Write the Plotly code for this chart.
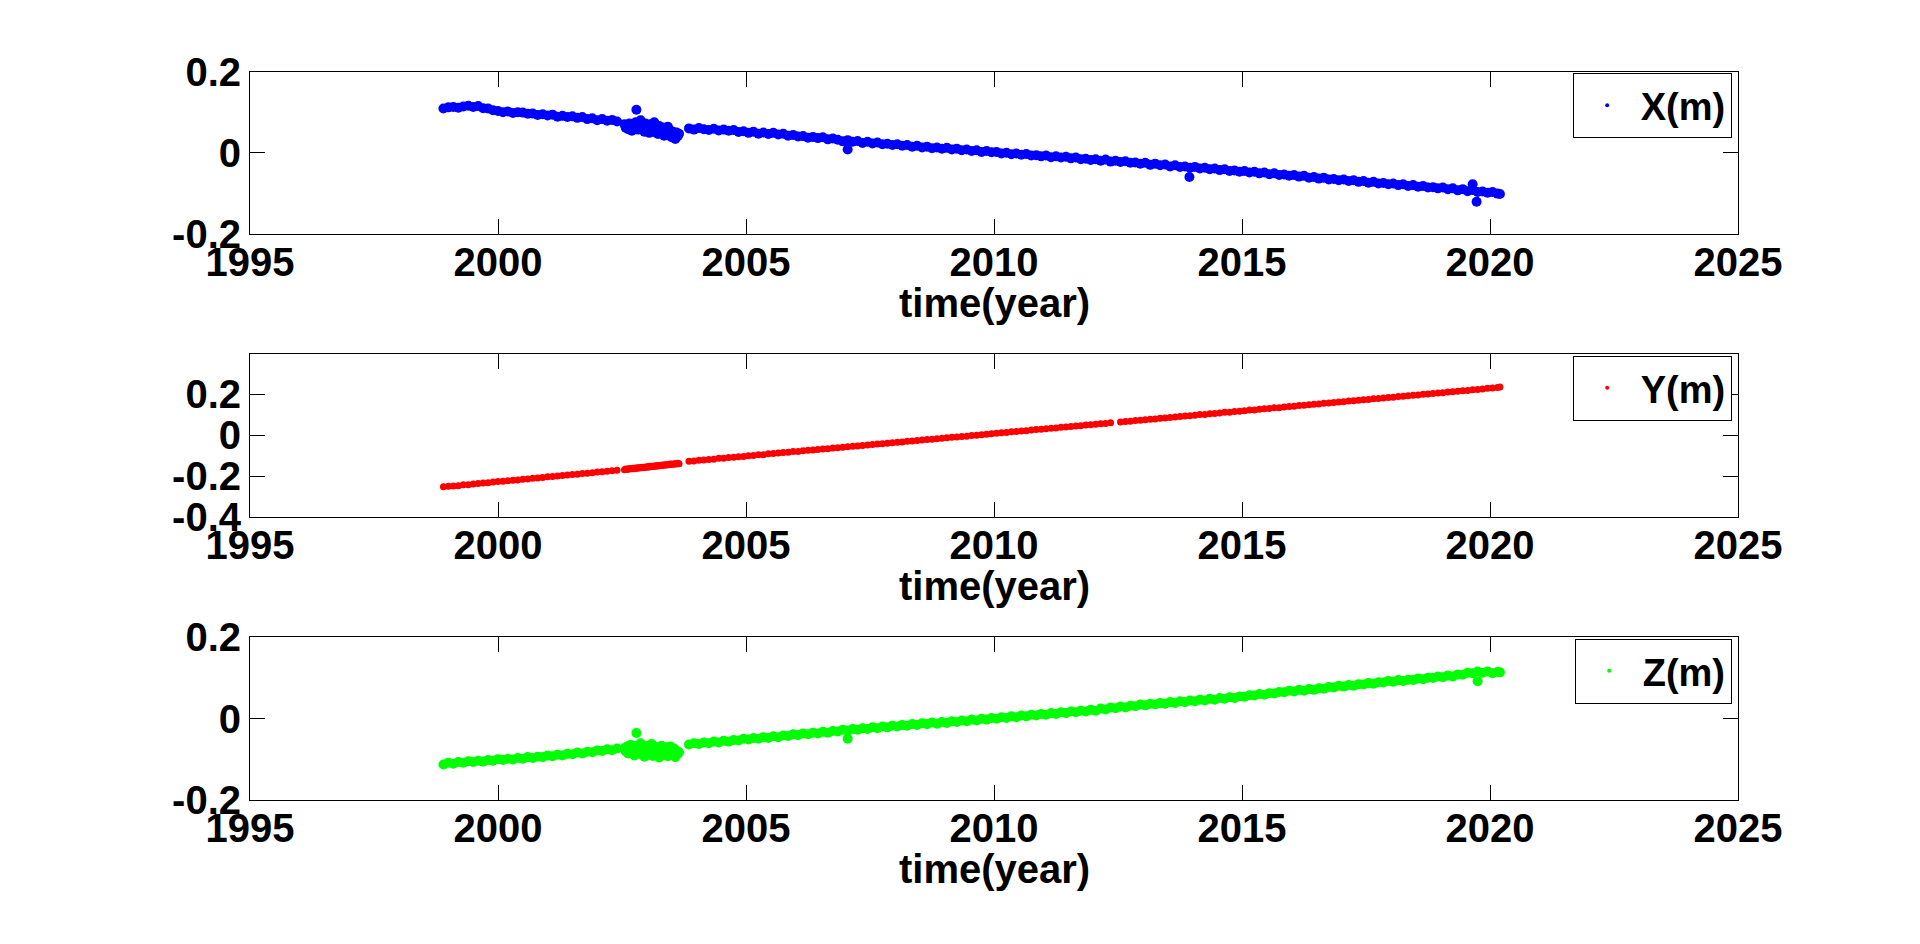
import plotly.graph_objects as go

# ---------------- data ----------------
T_A = [1998.9, 1999.0, 1999.1, 1999.2, 1999.3, 1999.4, 1999.5, 1999.6, 1999.7, 1999.8,
       1999.9, 2000.0, 2000.1, 2000.2, 2000.3, 2000.4, 2000.5, 2000.6, 2000.7, 2000.8,
       2000.9, 2001.0, 2001.1, 2001.2, 2001.3, 2001.4, 2001.5, 2001.6, 2001.7, 2001.8,
       2001.9, 2002.0, 2002.1, 2002.2, 2002.3, 2002.4]

T_B = [2002.55, 2002.575, 2002.6, 2002.625, 2002.65, 2002.675, 2002.7, 2002.725, 2002.75, 2002.775,
       2002.8, 2002.825, 2002.85, 2002.875, 2002.9, 2002.925, 2002.95, 2002.975, 2003.0, 2003.025,
       2003.05, 2003.075, 2003.1, 2003.125, 2003.15, 2003.175, 2003.2, 2003.225, 2003.25, 2003.275,
       2003.3, 2003.325, 2003.35, 2003.375, 2003.4, 2003.425, 2003.45, 2003.475, 2003.5, 2003.525,
       2003.55, 2003.575, 2003.6, 2003.625, 2003.65]

T_C = [2003.85, 2003.95, 2004.05, 2004.15, 2004.25, 2004.35, 2004.45, 2004.55, 2004.65, 2004.75,
       2004.85, 2004.95, 2005.05, 2005.15, 2005.25, 2005.35, 2005.45, 2005.55, 2005.65, 2005.75,
       2005.85, 2005.95, 2006.05, 2006.15, 2006.25, 2006.35, 2006.45, 2006.55, 2006.65, 2006.75,
       2006.85, 2006.95, 2007.05, 2007.15, 2007.25, 2007.35, 2007.45, 2007.55, 2007.65, 2007.75,
       2007.85, 2007.95, 2008.05, 2008.15, 2008.25, 2008.35, 2008.45, 2008.55, 2008.65, 2008.75,
       2008.85, 2008.95, 2009.05, 2009.15, 2009.25, 2009.35, 2009.45, 2009.55, 2009.65, 2009.75,
       2009.85, 2009.95, 2010.05, 2010.15, 2010.25, 2010.35, 2010.45, 2010.55, 2010.65, 2010.75,
       2010.85, 2010.95, 2011.05, 2011.15, 2011.25, 2011.35, 2011.45, 2011.55, 2011.65, 2011.75,
       2011.85, 2011.95, 2012.05, 2012.15, 2012.25, 2012.35, 2012.45, 2012.55, 2012.65, 2012.75,
       2012.85, 2012.95, 2013.05, 2013.15, 2013.25, 2013.35, 2013.45, 2013.55, 2013.65, 2013.75,
       2013.85, 2013.95, 2014.05, 2014.15, 2014.25, 2014.35, 2014.45, 2014.55, 2014.65, 2014.75,
       2014.85, 2014.95, 2015.05, 2015.15, 2015.25, 2015.35, 2015.45, 2015.55, 2015.65, 2015.75,
       2015.85, 2015.95, 2016.05, 2016.15, 2016.25, 2016.35, 2016.45, 2016.55, 2016.65, 2016.75,
       2016.85, 2016.95, 2017.05, 2017.15, 2017.25, 2017.35, 2017.45, 2017.55, 2017.65, 2017.75,
       2017.85, 2017.95, 2018.05, 2018.15, 2018.25, 2018.35, 2018.45, 2018.55, 2018.65, 2018.75,
       2018.85, 2018.95, 2019.05, 2019.15, 2019.25, 2019.35, 2019.45, 2019.55, 2019.65, 2019.75,
       2019.85, 2019.95, 2020.05, 2020.15, 2020.2]

X_A = [0.109, 0.112, 0.113, 0.111, 0.114, 0.116, 0.113, 0.115, 0.110, 0.109,
       0.105, 0.103, 0.100, 0.102, 0.098, 0.100, 0.099, 0.096, 0.097, 0.093,
       0.095, 0.092, 0.094, 0.089, 0.091, 0.088, 0.090, 0.086, 0.088, 0.083,
       0.085, 0.080, 0.083, 0.079, 0.081, 0.077]
X_B = [0.070, 0.062, 0.066, 0.058, 0.072, 0.060, 0.054, 0.068, 0.063, 0.075,
       0.066, 0.057, 0.070, 0.080, 0.061, 0.065, 0.052, 0.072, 0.058, 0.066,
       0.049, 0.070, 0.060, 0.055, 0.075, 0.050, 0.062, 0.046, 0.066, 0.057,
       0.052, 0.062, 0.042, 0.058, 0.050, 0.064, 0.044, 0.055, 0.038, 0.052,
       0.046, 0.034, 0.050, 0.041, 0.047]
X_C = [0.060, 0.057, 0.061, 0.058, 0.056, 0.059, 0.055, 0.057, 0.054, 0.056,
       0.051, 0.053, 0.049, 0.052, 0.047, 0.050, 0.046, 0.049, 0.045, 0.047,
       0.042, 0.044, 0.040, 0.041, 0.037, 0.039, 0.036, 0.038, 0.033, 0.035,
       0.032, 0.028, 0.031, 0.027, 0.029, 0.024, 0.027, 0.023, 0.025, 0.021,
       0.022, 0.019, 0.021, 0.017, 0.019, 0.015, 0.017, 0.013, 0.015, 0.011,
       0.013, 0.010, 0.012, 0.008, 0.010, 0.006, 0.008, 0.004, 0.006, 0.002,
       0.004, 0.001, 0.002, -0.002, 0.000, -0.004, -0.002, -0.005, -0.003, -0.007,
       -0.006, -0.009, -0.007, -0.011, -0.009, -0.012, -0.010, -0.014, -0.012, -0.016,
       -0.015, -0.018, -0.016, -0.020, -0.017, -0.022, -0.020, -0.023, -0.021, -0.025,
       -0.024, -0.027, -0.025, -0.030, -0.027, -0.031, -0.029, -0.034, -0.031, -0.035,
       -0.034, -0.037, -0.035, -0.039, -0.037, -0.041, -0.039, -0.043, -0.041, -0.045,
       -0.044, -0.047, -0.045, -0.049, -0.047, -0.051, -0.049, -0.053, -0.051, -0.055,
       -0.054, -0.057, -0.055, -0.059, -0.057, -0.062, -0.060, -0.064, -0.062, -0.066,
       -0.065, -0.068, -0.066, -0.070, -0.068, -0.072, -0.070, -0.074, -0.072, -0.076,
       -0.075, -0.078, -0.076, -0.080, -0.078, -0.082, -0.080, -0.084, -0.082, -0.086,
       -0.085, -0.088, -0.086, -0.090, -0.088, -0.093, -0.090, -0.095, -0.092, -0.097,
       -0.096, -0.099, -0.097, -0.101, -0.102]
X_OUT_T = [2002.79, 2007.05, 2013.94, 2019.65, 2019.73]
X_OUT_V = [0.106, 0.008, -0.060, -0.078, -0.121]

Y_A = [-0.251, -0.249, -0.247, -0.246, -0.242, -0.241, -0.238, -0.236, -0.233, -0.232,
       -0.228, -0.226, -0.224, -0.222, -0.219, -0.218, -0.215, -0.213, -0.210, -0.209,
       -0.206, -0.203, -0.201, -0.199, -0.197, -0.194, -0.192, -0.190, -0.187, -0.185,
       -0.183, -0.180, -0.178, -0.176, -0.173, -0.171]
Y_B = [-0.168, -0.165, -0.167, -0.164, -0.165, -0.162, -0.164, -0.161, -0.163, -0.160,
       -0.161, -0.159, -0.160, -0.157, -0.159, -0.156, -0.157, -0.155, -0.156, -0.153,
       -0.155, -0.152, -0.153, -0.151, -0.152, -0.149, -0.151, -0.148, -0.149, -0.147,
       -0.148, -0.145, -0.147, -0.144, -0.145, -0.143, -0.144, -0.141, -0.143, -0.140,
       -0.141, -0.139, -0.140, -0.137, -0.139]
Y_C = [-0.127, -0.126, -0.122, -0.121, -0.118, -0.117, -0.113, -0.112, -0.109, -0.107,
       -0.105, -0.104, -0.100, -0.099, -0.095, -0.095, -0.091, -0.089, -0.087, -0.085,
       -0.083, -0.080, -0.079, -0.076, -0.074, -0.072, -0.070, -0.067, -0.066, -0.063,
       -0.061, -0.059, -0.057, -0.054, -0.053, -0.050, -0.048, -0.046, -0.043, -0.042,
       -0.039, -0.037, -0.034, -0.033, -0.030, -0.029, -0.026, -0.024, -0.021, -0.020,
       -0.017, -0.015, -0.013, -0.010, -0.009, -0.006, -0.005, -0.002, 0.000, 0.002,
       0.005, 0.007, 0.009, 0.012, 0.013, 0.016, 0.018, 0.020, 0.022, 0.025,
       0.027, 0.029, 0.031, 0.034, 0.035, 0.038, 0.040, 0.042, 0.045, 0.046,
       0.049, 0.051, 0.053, 0.056, 0.057, 0.060, None, 0.064, 0.067, 0.068,
       0.071, 0.073, 0.075, 0.078, 0.079, 0.082, 0.084, 0.086, 0.088, 0.091,
       0.093, 0.095, 0.097, 0.100, 0.101, 0.104, 0.106, 0.108, 0.111, 0.112,
       0.115, 0.117, 0.119, 0.122, 0.123, 0.126, 0.128, 0.130, 0.133, 0.134,
       0.137, 0.139, 0.141, 0.144, 0.145, 0.148, 0.150, 0.152, 0.155, 0.156,
       0.159, 0.161, 0.163, 0.166, 0.167, 0.170, 0.172, 0.174, 0.177, 0.178,
       0.181, 0.183, 0.185, 0.188, 0.189, 0.192, 0.194, 0.196, 0.199, 0.200,
       0.203, 0.205, 0.207, 0.210, 0.211, 0.214, 0.216, 0.218, 0.221, 0.222,
       0.225, 0.228, 0.229, 0.232, 0.234]

Z_A = [-0.112, -0.108, -0.110, -0.106, -0.108, -0.104, -0.106, -0.103, -0.105, -0.101,
       -0.103, -0.099, -0.101, -0.098, -0.100, -0.096, -0.098, -0.094, -0.096, -0.093,
       -0.094, -0.090, -0.092, -0.088, -0.090, -0.086, -0.087, -0.083, -0.085, -0.081,
       -0.082, -0.078, -0.079, -0.075, -0.077, -0.073]
Z_B = [-0.072, -0.080, -0.068, -0.085, -0.075, -0.064, -0.082, -0.070, -0.090, -0.074,
       -0.066, -0.086, -0.078, -0.060, -0.083, -0.071, -0.093, -0.076, -0.067, -0.088,
       -0.074, -0.080, -0.062, -0.091, -0.077, -0.069, -0.085, -0.073, -0.095, -0.079,
       -0.066, -0.087, -0.075, -0.083, -0.070, -0.092, -0.078, -0.068, -0.088, -0.080,
       -0.073, -0.094, -0.079, -0.086, -0.082]
Z_C = [-0.063, -0.060, -0.062, -0.058, -0.060, -0.056, -0.058, -0.054, -0.056, -0.052,
       -0.053, -0.049, -0.051, -0.047, -0.049, -0.045, -0.047, -0.043, -0.045, -0.041,
       -0.042, -0.038, -0.040, -0.036, -0.038, -0.034, -0.036, -0.032, -0.034, -0.030,
       -0.031, -0.027, -0.029, -0.025, -0.027, -0.023, -0.025, -0.021, -0.023, -0.019,
       -0.021, -0.017, -0.019, -0.015, -0.017, -0.013, -0.015, -0.011, -0.013, -0.009,
       -0.012, -0.008, -0.010, -0.006, -0.008, -0.004, -0.006, -0.002, -0.004, 0.000,
       -0.002, 0.002, 0.000, 0.004, 0.002, 0.006, 0.004, 0.008, 0.006, 0.010,
       0.008, 0.012, 0.010, 0.014, 0.012, 0.016, 0.014, 0.018, 0.016, 0.020,
       0.018, 0.022, 0.020, 0.025, 0.023, 0.028, 0.026, 0.030, 0.028, 0.032,
       0.031, 0.035, 0.033, 0.037, 0.035, 0.039, 0.037, 0.041, 0.039, 0.043,
       0.041, 0.045, 0.043, 0.047, 0.045, 0.049, 0.047, 0.051, 0.049, 0.053,
       0.051, 0.055, 0.054, 0.058, 0.057, 0.061, 0.059, 0.063, 0.062, 0.066,
       0.065, 0.069, 0.067, 0.071, 0.069, 0.073, 0.071, 0.075, 0.074, 0.078,
       0.077, 0.081, 0.079, 0.083, 0.081, 0.085, 0.084, 0.088, 0.086, 0.090,
       0.089, 0.093, 0.091, 0.095, 0.093, 0.096, 0.095, 0.099, 0.097, 0.101,
       0.100, 0.104, 0.102, 0.106, 0.104, 0.109, 0.108, 0.113, 0.112, 0.116,
       0.113, 0.116, 0.112, 0.115, 0.114]
Z_OUT_T = [2002.79, 2007.05, 2019.75]
Z_OUT_V = [-0.035, -0.049, 0.092]

X_TICKS = [1995, 2000, 2005, 2010, 2015, 2020, 2025]
Y_TICKS_XZ = [-0.2, 0, 0.2]
Y_TICKTEXT_XZ = ["-0.2", "0", "0.2"]
Y_TICKS_Y = [-0.4, -0.2, 0, 0.2]
Y_TICKTEXT_Y = ["-0.4", "-0.2", "0", "0.2"]
X_TITLE = "time(year)"

SERIES = [("X(m)", "#0000ff"), ("Y(m)", "#ff0000"), ("Z(m)", "#00ff00")]

# ---------------- figure ----------------
W, H = 1920, 944
OFF = 8  # the page body margin shifts the figure by 8 px; targets are in screen px
FONT = "Liberation Sans, Arial, sans-serif"
tfont = dict(family=FONT, size=40, color="black", weight="bold")

T_ALL = T_A + T_B + T_C
xs = [T_ALL + X_OUT_T, T_ALL, T_ALL + Z_OUT_T]
ys = [X_A + X_B + X_C + X_OUT_V, Y_A + Y_B + Y_C, Z_A + Z_B + Z_C + Z_OUT_V]
msize = [10, 7, 10]

fig = go.Figure()
for i in range(3):
    sfx = "" if i == 0 else str(i + 1)
    name, col = SERIES[i]
    fig.add_trace(go.Scatter(x=xs[i], y=ys[i], mode="markers", name=name, showlegend=False,
                             marker=dict(color=col, size=msize[i], line_width=0),
                             xaxis="x" + sfx, yaxis="y" + sfx))
    # legend entry drawn with the small '.' marker used in the reference
    fig.add_trace(go.Scatter(x=[None], y=[None], mode="markers", name=name, showlegend=True,
                             marker=dict(color=col, size=4, line_width=0),
                             xaxis="x" + sfx, yaxis="y" + sfx, legend="legend" + sfx))

# screen-pixel boxes of the three axes in the reference
LEFT, RIGHT = 250, 1738
boxes = [(71.7, 233.7), (354.3, 517.3), (637.3, 800.3)]
xdom = [(LEFT - OFF) / W, (RIGHT - OFF) / W]
ydoms = [[1 - (b - OFF) / H, 1 - (t - OFF) / H] for (t, b) in boxes]

common_axis = dict(showline=True, linecolor="black", linewidth=1, mirror="ticks",
                   ticks="inside", ticklen=15, tickwidth=1, tickcolor="black",
                   showgrid=False, zeroline=False, tickfont=tfont, automargin=False)

layout = dict(template="none", width=W, height=H,
              margin=dict(l=0, r=0, t=0, b=0, pad=0, autoexpand=False),
              paper_bgcolor="white", plot_bgcolor="white", showlegend=True,
              annotations=[])

yranges = [[-0.2, 0.2], [-0.4, 0.3937], [-0.2, 0.2]]
yticks = [(Y_TICKS_XZ, Y_TICKTEXT_XZ), (Y_TICKS_Y, Y_TICKTEXT_Y), (Y_TICKS_XZ, Y_TICKTEXT_XZ)]
for i in range(3):
    sfx = "" if i == 0 else str(i + 1)
    layout["xaxis" + sfx] = dict(common_axis, domain=xdom, range=[1995, 2025],
                                 anchor="y" + sfx, tickmode="array", tickvals=X_TICKS,
                                 ticktext=[str(v) for v in X_TICKS], ticklabelstandoff=-7)
    layout["yaxis" + sfx] = dict(common_axis, domain=ydoms[i], range=yranges[i],
                                 anchor="x" + sfx, tickmode="array", tickvals=yticks[i][0],
                                 ticktext=yticks[i][1])
    # x-axis title, placed like the reference
    layout["annotations"].append(dict(text=X_TITLE, font=tfont, showarrow=False,
                                      xref="paper", yref="paper",
                                      x=((LEFT + RIGHT) / 2 - OFF) / W, xanchor="center",
                                      y=1 - (boxes[i][1] + 69 - OFF) / H, yanchor="middle"))
    layout["legend" + sfx] = dict(x=(1731.7 - OFF) / W, xanchor="right",
                                  y=1 - (boxes[i][0] + 33.8 - OFF) / H, yanchor="middle",
                                  bordercolor="black", borderwidth=1,
                                  bgcolor="white", font=dict(tfont, size=38), itemwidth=57)

fig.update_layout(**layout)
fig.write_html("out.html")
